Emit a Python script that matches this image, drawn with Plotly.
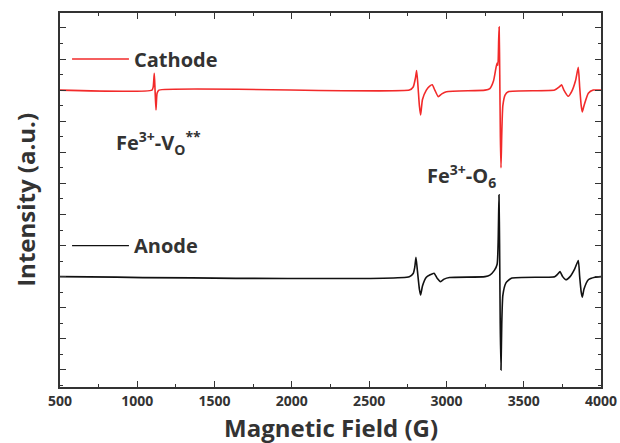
import plotly.graph_objects as go

# Traced EPR spectra (field in G, intensity in offset units)
cathode_field = [500, 1095, 1103, 1110, 1115, 1121, 1128, 1140,
                 2760, 2785, 2800, 2807, 2815, 2825, 2833, 2845, 2870, 2890, 2908, 2925, 2947, 2970, 3000,
                 3250, 3281, 3305, 3320, 3328, 3333, 3338, 3341, 3345, 3349, 3353, 3358, 3365, 3380, 3400,
                 3700, 3730, 3745, 3760, 3788, 3810, 3835, 3853, 3862, 3872, 3879, 3890, 3918, 3950, 4000]
cathode_int = [9.0, 9.0, 9.1, 9.54, 9.0, 8.36, 8.9, 9.0,
               9.0, 9.1, 9.4, 9.63, 9.2, 8.5, 8.2, 8.7, 9.0, 9.12, 9.17, 9.0, 8.79, 8.88, 8.95,
               9.0, 9.05, 9.3, 9.7, 9.87, 9.8, 10.6, 11.03, 9.5, 7.5, 6.5, 7.6, 8.5, 8.85, 8.95,
               9.0, 9.1, 9.17, 9.0, 8.8, 8.95, 9.3, 9.73, 9.1, 8.5, 8.3, 8.5, 8.9, 9.0, 9.0]

anode_field = [500, 2760, 2785, 2795, 2803, 2812, 2825, 2833, 2845, 2870, 2895, 2920, 2940, 2962, 2985, 3020,
               3250, 3281, 3310, 3328, 3335, 3340, 3344, 3348, 3353, 3358, 3365, 3385, 3420,
               3700, 3720, 3735, 3752, 3773, 3800, 3830, 3853, 3862, 3872, 3879, 3890, 3918, 3960, 4000]
anode_int = [3.0, 3.0, 3.1, 3.3, 3.62, 3.2, 2.6, 2.41, 2.7, 2.98, 3.06, 3.11, 2.95, 2.84, 2.92, 2.97,
             3.0, 3.05, 3.2, 3.4, 4.2, 5.63, 4.0, 1.5, 0.0, 1.5, 2.4, 2.8, 2.95,
             3.0, 3.08, 3.16, 3.0, 2.9, 3.0, 3.25, 3.52, 3.0, 2.5, 2.34, 2.6, 2.9, 2.98, 3.0]

series_names = ["Cathode", "Anode"]
x_tick_vals = [500, 1000, 1500, 2000, 2500, 3000, 3500, 4000]
x_tick_text = ["500", "1000", "1500", "2000", "2500", "3000", "3500", "4000"]

RED = "#f22a2a"
BLACK = "#111111"
AXC = "#333333"
FONT = "Open Sans"

fig = go.Figure()
fig.add_trace(go.Scatter(x=cathode_field, y=cathode_int, mode="lines", name=series_names[0],
                         line=dict(color=RED, width=1.6, shape="spline", smoothing=0.5)))
fig.add_trace(go.Scatter(x=anode_field, y=anode_int, mode="lines", name=series_names[1],
                         line=dict(color=BLACK, width=1.6, shape="spline", smoothing=0.5)))

# legend-style swatches and labels
for name, color, yv in [(series_names[0], RED, 10.0), (series_names[1], BLACK, 4.0)]:
    fig.add_shape(type="line", xref="x", yref="y", x0=578, x1=946, y0=yv, y1=yv,
                  line=dict(color=color, width=1.3))
    fig.add_annotation(x=968, y=yv, xref="x", yref="y", text=name, showarrow=False,
                       xanchor="left", yanchor="middle",
                       font=dict(family=FONT, size=20, color=AXC, weight="bold"))

fig.add_annotation(x=850, y=7.3, xref="x", yref="y",
                   text="Fe<sup>3+</sup>-V<sub>O</sub><sup>**</sup>", showarrow=False,
                   xanchor="left", yanchor="middle",
                   font=dict(family=FONT, size=20, color=AXC, weight="bold"))
fig.add_annotation(x=2862, y=6.25, xref="x", yref="y",
                   text="Fe<sup>3+</sup>-O<sub>6</sub>", showarrow=False,
                   xanchor="left", yanchor="middle",
                   font=dict(family=FONT, size=20, color=AXC, weight="bold"))

# axis titles
fig.add_annotation(x=0.5, y=-0.108, xref="paper", yref="paper", text="Magnetic Field (G)",
                   showarrow=False, xanchor="center", yanchor="middle",
                   font=dict(family=FONT, size=24, color=AXC, weight="bold"))
fig.add_annotation(x=-0.065, y=0.5, xref="paper", yref="paper", text="Intensity (a.u.)",
                   showarrow=False, xanchor="center", yanchor="middle", textangle=-90,
                   font=dict(family=FONT, size=24, color=AXC, weight="bold"))

fig.update_layout(
    width=620, height=443,
    margin=dict(l=60, r=19, t=13, b=56),
    plot_bgcolor="white", paper_bgcolor="white",
    showlegend=False,
    xaxis=dict(range=[500, 4000], tickvals=x_tick_vals, ticktext=x_tick_text, automargin=False,
               ticks="inside", ticklen=6, tickwidth=1.3, tickcolor=AXC,
               minor=dict(ticks="inside", dtick=250, tick0=500, ticklen=3, tickwidth=1.3, tickcolor=AXC),
               showline=True, linecolor=AXC, linewidth=1.5, mirror="ticks",
               showgrid=False, zeroline=False,
               tickfont=dict(family=FONT, size=14, color=AXC, weight="bold")),
    yaxis=dict(range=[-0.55, 11.48], dtick=1, tick0=0, showticklabels=False, automargin=False,
               ticks="inside", ticklen=6, tickwidth=1.3, tickcolor=AXC,
               minor=dict(ticks="inside", dtick=0.5, tick0=0, ticklen=3, tickwidth=1.3, tickcolor=AXC),
               showline=True, linecolor=AXC, linewidth=1.5, mirror="ticks",
               showgrid=False, zeroline=False),
)

fig.write_html("out.html", config={"displayModeBar": False},
               post_script="document.body.style.margin='0';document.body.style.overflow='hidden';")
